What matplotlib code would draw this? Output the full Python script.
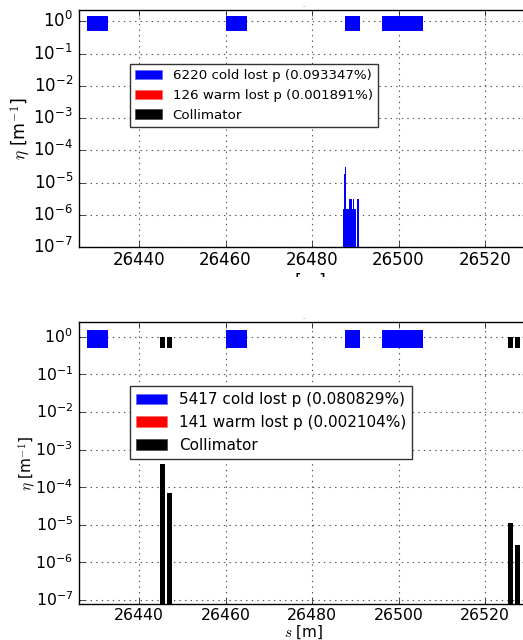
import matplotlib
matplotlib.use("Agg")
import matplotlib.pyplot as plt
from matplotlib.patches import Patch, Rectangle
from matplotlib.ticker import ScalarFormatter, NullLocator

plt.style.use("classic")

# ---------------- data ----------------
# machine elements (cold magnets) drawn as blocks at eta ~ 1
cold_elem_s = [26428.0, 26460.0, 26487.6, 26496.2]
cold_elem_len = [4.8, 4.9, 3.5, 9.5]

# collimators (bottom panel)
coll_s = [26444.9, 26446.45, 26525.3, 26526.9]
coll_len = [1.0, 1.2, 1.05, 1.15]

# top panel: cold losses (0.1 m bins, left edges)
top_cold_s = [26487.2, 26487.3, 26487.4, 26487.5, 26487.6, 26487.7, 26487.8,
              26487.9, 26488.0, 26488.1, 26488.2, 26488.3, 26488.4, 26488.5,
              26488.6, 26488.7, 26488.8, 26488.9, 26489.0, 26489.1, 26489.2,
              26489.3, 26489.4, 26489.5, 26489.6, 26489.7, 26489.8, 26489.9,
              26490.0, 26490.4, 26490.5, 26490.6, 26490.7]
top_cold_eta = [1.5e-6, 4.5e-6, 1.8e-5, 1.8e-5, 3.0e-5, 3.0e-5, 3.0e-5,
                1.5e-6, 1.5e-6, 1.5e-6, 3.0e-6, 3.0e-6, 1.5e-6, 3.0e-6,
                3.0e-6, 3.0e-6, 3.0e-6, 1.5e-6, 3.0e-6, 3.0e-6, 3.0e-6,
                1.5e-6, 3.0e-6, 3.0e-6, 1.5e-6, 1.5e-6, 1.5e-6, 1.5e-6,
                1.5e-6, 3.0e-6, 3.0e-6, 3.0e-6, 3.0e-6]
bin_width = 0.1

# bottom panel: collimator losses
bot_coll_eta = [4.2e-4, 7.1e-5, 1.15e-5, 2.9e-6]

legend_top = ["6220 cold lost p (0.093347%)", "126 warm lost p (0.001891%)", "Collimator"]
legend_bot = ["5417 cold lost p (0.080829%)", "141 warm lost p (0.002104%)", "Collimator"]

yticks = [1e-7, 1e-6, 1e-5, 1e-4, 1e-3, 1e-2, 1e-1, 1e0]
xticks = [26440, 26460, 26480, 26500, 26520]

W, H = 523, 640
fig = plt.figure(figsize=(W / 100, H / 100), dpi=100)
fig.patch.set_facecolor("white")

xlim = (26426, 26530)
left = 78.5 / W
width = 449.8 / W


def setup(ax, ylim, tick_fs, label_fs, leg_labels, leg_fs, show_coll,
          ylab_x, xpad, xlabpad):
    ax.set_yscale("log")
    ax.set_xlim(*xlim)
    ax.set_ylim(*ylim)
    # element blocks
    ax.bar(cold_elem_s, [1.0] * len(cold_elem_s), width=cold_elem_len,
           bottom=0.5, align="edge", color="blue", linewidth=0, zorder=3)
    if show_coll:
        ax.bar(coll_s, [0.5] * len(coll_s), width=coll_len, bottom=0.5,
               align="edge", color="black", linewidth=0, zorder=3)
    ax.set_xticks(xticks)
    fmt = ScalarFormatter(useOffset=False)
    fmt.set_scientific(False)
    ax.xaxis.set_major_formatter(fmt)
    ax.set_yticks(yticks)
    ax.yaxis.set_minor_locator(NullLocator())
    ax.xaxis.set_minor_locator(NullLocator())
    ax.tick_params(labelsize=tick_fs)
    ax.tick_params(axis="x", pad=xpad)
    ax.grid(True, which="major", linestyle=":", color="#555555", linewidth=0.8)
    ax.set_axisbelow(True)
    ax.set_ylabel(r"$\eta$ [m$^{-1}$]", fontsize=label_fs)
    ax.yaxis.set_label_coords(ylab_x, 0.5)
    ax.set_xlabel(r"$s$ [m]", fontsize=label_fs, labelpad=xlabpad)
    ax.set_title(".", fontsize=5, pad=2, color="#666666")
    handles = [Patch(facecolor="blue", edgecolor="#6666ff", linewidth=0.5),
               Patch(facecolor="red", edgecolor="#ff6666", linewidth=0.5),
               Patch(facecolor="black", edgecolor="#444444", linewidth=0.5)]
    leg = ax.legend(handles, leg_labels, loc="upper left",
                    bbox_to_anchor=(0.1145, 0.772), borderaxespad=0,
                    fontsize=leg_fs, frameon=True, fancybox=False)
    leg.get_frame().set_edgecolor("#333333")
    leg.get_frame().set_linewidth(1.0)
    leg.set_zorder(10)


# top panel
ax1 = fig.add_axes([left, 1 - 247 / H, width, 237 / H])
setup(ax1, (1e-7, 2.24), 12, 12.5, legend_top, 9.6, False, -0.103, 3, 2)
ax1.bar(top_cold_s, top_cold_eta, width=bin_width, align="edge",
        color="blue", linewidth=0, zorder=3)

# bottom panel
ax2 = fig.add_axes([left, 1 - 604.3 / H, width, 282.6 / H])
setup(ax2, (7.7e-8, 2.5), 11.3, 11, legend_bot, 11, True, -0.090, 3, 0)
ax2.bar(coll_s, bot_coll_eta, width=coll_len, align="edge",
        color="black", linewidth=0, zorder=3)

# cropped strip between the two panels (top panel image was cropped there)
fig.add_artist(Rectangle((0, 1 - 314 / H), 1, (314 - 277) / H,
                         transform=fig.transFigure, facecolor="white",
                         edgecolor="none", zorder=5))

fig.savefig("out.png", dpi=100)
